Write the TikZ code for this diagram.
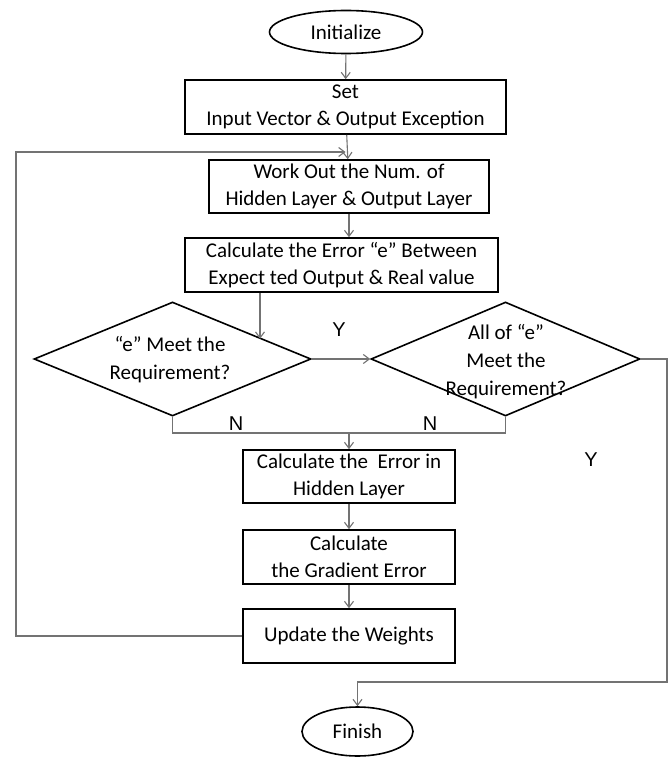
\documentclass[tikz,border=0pt]{standalone}
\usepackage{fontspec}
\setmainfont{Carlito}
\newfontfamily\ynfont{Liberation Sans}
\usetikzlibrary{shapes.geometric,arrows.meta}
\tikzset{
  box/.style={draw=black, line width=1.6pt, rectangle, inner sep=0pt, align=center,
    font=\fontsize{21}{27}\selectfont},
  term/.style={draw=black, line width=1.6pt, ellipse, inner sep=0pt,
    font=\fontsize{21}{27}\selectfont},
  dia/.style={draw=black, line width=1.6pt, diamond, inner sep=0pt},
  diatext/.style={align=center, inner sep=0pt, font=\fontsize{21}{28}\selectfont},
  conn/.style={draw=black!55, line width=1.1pt},
  arr/.style={conn, -{Straight Barb[length=6pt,width=9pt]}},
  yn/.style={inner sep=0pt, font=\ynfont\fontsize{20}{22}\selectfont}
}
\begin{document}
\begin{tikzpicture}[x=1pt,y=-1pt]
\path[use as bounding box] (0,0) rectangle (670,757);
\fill[white] (0,0) rectangle (670,757);

\node[term, minimum width=153, minimum height=43] (init) at (346,32) {Initialize};
\node[box, minimum width=321, minimum height=54] (set) at (345.5,107) {Set\\Input Vector \& Output Exception};
\node[box, minimum width=280, minimum height=53] (work) at (349,186.5) {Work Out the Num. of\\Hidden Layer \& Output Layer};
\node[box, minimum width=313, minimum height=54] (calc) at (341.5,265) {Calculate the Error “e” Between\\Expect ted Output \& Real value};

\node[dia, minimum width=277, minimum height=114] (d1) at (172.5,359) {};
\node[diatext] (d1t) at (170,360) {“e” Meet the\\Requirement?};
\node[dia, minimum width=269, minimum height=114] (d2) at (505.5,359) {};
\node[diatext] (d2t) at (506,362) {All of “e”\\Meet the\\Requirement?};

\node[box, minimum width=212, minimum height=53] (hid) at (349,476.5) {Calculate the\ \ Error in\\Hidden Layer};
\node[box, minimum width=212, minimum height=54] (grad) at (349,557) {Calculate\\the Gradient Error};
\node[box, minimum width=212, minimum height=54] (upd) at (349,636) {Update the Weights};
\node[term, minimum width=111, minimum height=49] (fin) at (357.5,731.5) {Finish};

% labels
\node[yn] (ly1) at (339,330) {Y};
\node[yn] (ln1) at (236,424) {N};
\node[yn] (ln2) at (430,424) {N};
\node[yn] (ly2) at (591,460) {Y};

% connectors
\draw[arr] (init) -- (set);
\draw[arr] (set) -- (work);
\draw[arr] (work) -- (work |- calc.north);
\draw[arr] ([xshift=-81.5pt]calc.south) -- ++(0,46);
\draw[arr] (d1.east) -- (d2.west);
\draw[arr] (d2.east) -- (667,359) -- (667,682) -| (fin.north);
\draw[conn] (d1.south) -- (d1.south |- 0,433) -- (d2.south |- 0,433) -- (d2.south);
\draw[arr] (hid.north |- 0,433) -- (hid.north);
\draw[arr] (hid) -- (grad);
\draw[arr] (grad) -- (upd);
\draw[arr] (upd.west) -| (16,152) -- (set.south |- 0,152);
\end{tikzpicture}
\end{document}
